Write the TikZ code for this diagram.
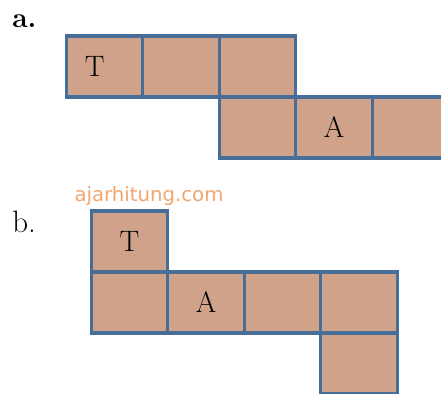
\documentclass[tikz,border=0pt]{standalone}
\usepackage{xcolor}
\usepackage{fontspec}
\newfontfamily\markfont{DejaVu Sans}
\usepackage{tikz}
\usetikzlibrary{positioning}
\definecolor{facefill}{RGB}{208,162,138}
\definecolor{faceedge}{RGB}{70,110,152}
\definecolor{markorange}{RGB}{240,166,110}

\begin{document}
\begin{tikzpicture}[
x=0.025cm,y=-0.025cm,
node distance=0pt and 0pt,
face/.style={
draw=faceedge,
fill=facefill,
line width=2.3pt,
outer sep=0pt,
inner sep=0pt,
minimum width=1.9125cm,
minimum height=1.525cm,
font=\fontsize{21}{24}\selectfont
},
tag/.style={anchor=base west,inner sep=0pt,font=\fontsize{22}{24}\selectfont}
]
\useasboundingbox (0,0) rectangle (441,394);
\clip (0,0) rectangle (441,394);

\node[tag,font=\fontsize{20}{22}\selectfont\bfseries] (taga) at (12,28) {a.};

\node[face] (a1) at (104.5,66.5) {\hspace*{-14pt}T};
\node[face] (a2) [right=of a1] {};
\node[face] (a3) [right=of a2] {};
\node[face] (a4) [below=of a3] {};
\node[face] (a5) [right=of a4] {A};
\node[face] (a6) [right=of a5] {};

\node[tag] (tagb) at (12,232) {b.};

\node[inner sep=0pt,text=markorange,font=\markfont\fontsize{14}{16}\selectfont]
(mark) at (149,196) {ajarhitung.com};

\node[face] (b1) at (129.5,241.5) {T};
\node[face] (b2) [below=of b1] {};
\node[face] (b3) [right=of b2] {A};
\node[face] (b4) [right=of b3] {};
\node[face] (b5) [right=of b4] {};
\node[face] (b6) [below=of b5] {};

\end{tikzpicture}
\end{document}
